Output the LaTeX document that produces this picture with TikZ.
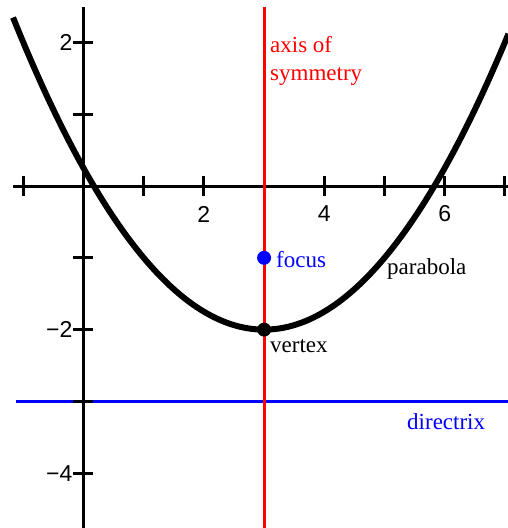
\documentclass[tikz,border=0pt]{standalone}
\usepackage{fontspec}
\setmainfont{Liberation Serif}
\newfontfamily\labelserif{Liberation Serif}
\newfontfamily\axisnumfont{Liberation Sans}
\usepackage{xcolor}
\usepackage{tikz}
\usetikzlibrary{positioning, calc}
\definecolor{symred}{RGB}{255,0,0}
\definecolor{dirblue}{RGB}{0,0,255}
\definecolor{curvedark}{RGB}{0,0,0}
\tikzset{
  axisline/.style={line width=3pt, color=black},
  tickmark/.style={line width=3pt, color=black},
  symline/.style={line width=3pt, color=symred},
  dirline/.style={line width=3pt, color=dirblue},
  curve/.style={line width=6pt, color=curvedark},
  dot/.style={circle, inner sep=0pt, minimum size=14pt},
  lbl/.style={inner sep=0pt, font=\labelserif\fontsize{23}{28}\selectfont, anchor=base west},
  numlbl/.style={inner sep=0pt, font=\axisnumfont\fontsize{23}{26}\selectfont}
}

\begin{document}
\begin{tikzpicture}[x=60.2pt, y=71.8pt]
  \useasboundingbox (-1.387,-4.763) rectangle (7.051,2.591);

  % End points
  \coordinate (xl) at (-1.17,0);
  \coordinate (xr) at (7.06,0);
  \coordinate (yt) at (0,2.49);
  \coordinate (yb) at (0,-4.77);
  \coordinate (st) at (3,2.49);
  \coordinate (sb) at (3,-4.77);
  \coordinate (dl) at (-1.12,-3);
  \coordinate (dr) at (7.06,-3);

  % Directrix
  \draw[dirline] (dl) -- (dr);

  % Axes and ticks
  \draw[axisline] (xl) -- (xr);
  \draw[axisline] (yt) -- (yb);
  \foreach \x in {-1,...,7}
    \draw[tickmark] (\x,0) ++(0,-10pt) -- ++(0,20pt);
  \foreach \y in {-4,...,2}
    \draw[tickmark] (0,\y) ++(-10pt,0) -- ++(20pt,0);
  \foreach \x in {2,4,6}
    \node[numlbl] (xnum\x) at ($(\x,0)+(0,-28pt)$) {\x};
  \node[numlbl, anchor=east] (ynum2) at ($(0,2)+(-11pt,0)$) {2};
  \node[numlbl, anchor=east] (ynumm2) at ($(0,-2)+(-11pt,0)$) {−2};
  \node[numlbl, anchor=east] (ynumm4) at ($(0,-4)+(-11pt,0)$) {−4};

  % Axis of symmetry
  \draw[symline] (st) -- (sb);

  % Parabola
  \draw[curve] plot[domain=-1.17:7.06, samples=120] (\x, {(\x-3)^2/4-2});

  % Focus and vertex
  \node[dot, fill=dirblue] (focus) at (3,-1) {};
  \node[dot, fill=black] (vertex) at (3,-2) {};

  % Labels
  \node[lbl, anchor=north west, align=left, text=symred] (symlbl) at (3.098,2.09) {axis of\\symmetry};
  \node[lbl, text=dirblue] (focuslbl) at (3.198,-1.128) {focus};
  \node[lbl] (parlbl) at (5.042,-1.226) {parabola};
  \node[lbl] (vertlbl) at (3.098,-2.312) {vertex};
  \node[lbl, text=dirblue] (dirlbl) at (5.374,-3.398) {directrix};
\end{tikzpicture}
\end{document}
